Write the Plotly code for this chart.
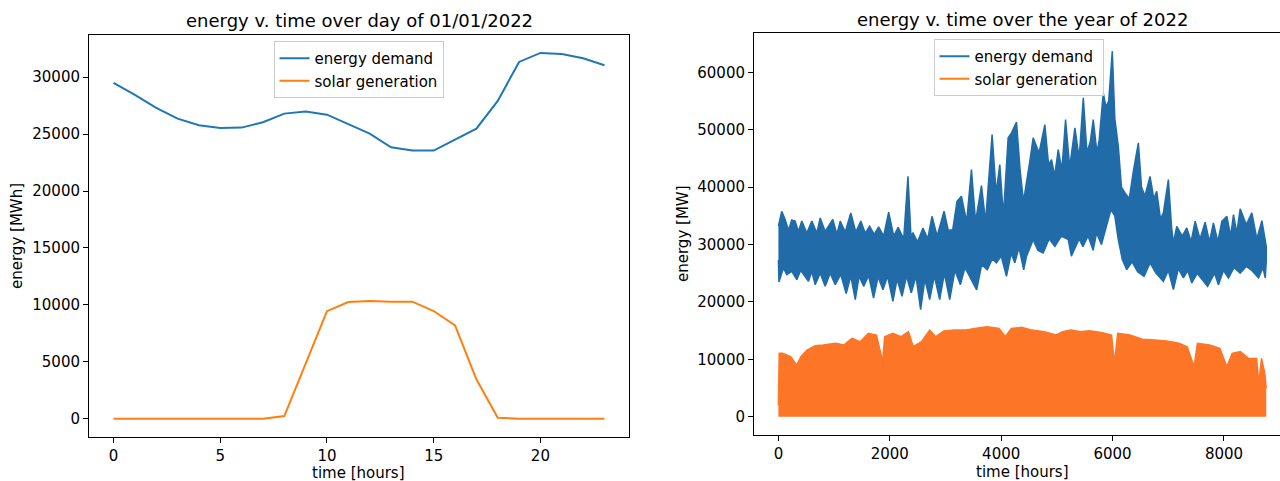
import plotly.graph_objects as go

# ---------------- data: day of 01/01/2022 (hourly) ----------------
day_hours = list(range(24))
day_demand = [29500, 28450, 27300, 26360, 25780, 25540, 25570, 26040, 26800, 26980,
              26710, 25840, 25040, 23840, 23550, 23550, 24550, 25480, 27910, 31340,
              32130, 32040, 31660, 31050]
day_solar = [0, 0, 0, 0, 0, 0, 0, 0, 230, 4900,
             9450, 10250, 10340, 10280, 10280, 9460, 8200, 3460, 90, 0,
             0, 0, 0, 0]

# ---------------- data: year 2022, envelope ----------------
# demand upper envelope (hour, MW)
dem_up_h = [0, 60, 120, 180, 240, 300, 360, 420, 510, 600, 690, 750, 840, 977, 1050, 1110,
            1200, 1300, 1390, 1480, 1560, 1637, 1720, 1800, 1890, 1980, 2070, 2150, 2250,
            2326, 2380, 2416, 2500, 2596, 2680, 2758, 2850, 2974, 3050, 3130, 3207, 3286,
            3380, 3466, 3540, 3646, 3720, 3837, 3910, 3975, 4040, 4125, 4185, 4275, 4340,
            4400, 4514, 4574, 4680, 4784, 4850, 4904, 4960, 5024, 5090, 5156, 5230, 5324,
            5400, 5474, 5540, 5600, 5653, 5720, 5760, 5833, 5880, 5930, 5995, 6040, 6103,
            6160, 6223, 6300, 6373, 6463, 6520, 6580, 6673, 6740, 6793, 6860, 6912, 7002,
            7060, 7092, 7152, 7250, 7333, 7410, 7482, 7570, 7662, 7740, 7811, 7890, 7962,
            8052, 8120, 8171, 8230, 8291, 8400, 8501, 8590, 8681, 8759]
dem_up_v = [33200, 35800, 34400, 32500, 34300, 34100, 32300, 34100, 32000, 34100, 32000,
            34650, 32300, 34400, 31800, 34100, 32200, 35500, 32200, 34100, 32000, 33200,
            31800, 33100, 31500, 35650, 31500, 33000, 31000, 41900, 31500, 32040, 30500,
            32900, 31000, 34940, 31500, 35810, 32500, 32600, 37560, 38430, 34000, 43080,
            34000, 40290, 34000, 49190, 39000, 43950, 35000, 48610, 49480, 51340, 43000,
            37500, 44530, 48610, 46000, 50930, 44000, 44830, 42000, 46570, 43000, 51800,
            43500, 50350, 45000, 55590, 46000, 48000, 51800, 46000, 48250, 56460, 54000,
            55000, 63720, 52000, 47150, 40000, 39020, 38000, 42790, 47740, 40000, 38500,
            41900, 38000, 39300, 34500, 35530, 41340, 33000, 30300, 33190, 31500, 32900,
            30500, 34070, 31000, 33900, 30500, 33770, 30500, 34070, 34940, 31500, 35230,
            32000, 36230, 33500, 35530, 31000, 34190, 29700]
# demand lower envelope (hour, MW)
dem_lo_h = [0, 10, 90, 150, 240, 330, 400, 450, 540, 600, 660, 750, 840, 930, 1020, 1120,
            1217, 1300, 1380, 1450, 1530, 1620, 1708, 1790, 1877, 1960, 2056, 2130, 2220,
            2300, 2387, 2470, 2554, 2630, 2716, 2800, 2896, 2980, 3076, 3170, 3268, 3350,
            3460, 3560, 3650, 3750, 3840, 3915, 4000, 4095, 4180, 4245, 4320, 4404, 4455,
            4574, 4660, 4754, 4860, 4964, 5080, 5204, 5260, 5400, 5468, 5560, 5651, 5714,
            5800, 5880, 5971, 6040, 6100, 6175, 6254, 6350, 6450, 6565, 6673, 6780, 6912,
            7000, 7092, 7180, 7272, 7350, 7422, 7520, 7600, 7706, 7830, 7901, 7990, 8081,
            8180, 8290, 8400, 8500, 8621, 8700, 8741, 8759]
dem_lo_v = [27300, 23500, 25900, 24770, 25350, 23900, 25500, 24770, 23600, 25300, 23020,
            25000, 22730, 25000, 23020, 24800, 21450, 24500, 20400, 24500, 22730, 24600,
            20700, 24400, 22150, 24500, 20100, 24000, 21000, 24500, 21580, 24500, 18660,
            24000, 20410, 24500, 20410, 25000, 20410, 25500, 23020, 26000, 24000, 22100,
            26500, 25600, 27500, 26810, 28000, 24470, 28500, 26810, 29500, 25580, 27960,
            30870, 29000, 28550, 31000, 29700, 31500, 30870, 28000, 31000, 29650, 31500,
            29000, 32040, 30000, 33000, 36110, 35000, 31000, 27380, 25640, 27000, 25290,
            24470, 26810, 25000, 23600, 25500, 22150, 25800, 24190, 25500, 23320, 25000,
            24000, 22700, 25000, 23020, 25500, 24190, 26000, 25000, 26200, 25500, 24190,
            26000, 24190, 27000]
# solar upper envelope (hour, MW); the lower bound of the solar band is 0
sol_h = [0, 15, 73, 220, 330, 404, 514, 660, 807, 1028, 1174, 1321, 1468, 1615, 1761,
         1872, 1908, 2055, 2202, 2334, 2422, 2569, 2716, 2826, 2972, 3156, 3376, 3523,
         3743, 3963, 4073, 4183, 4367, 4550, 4771, 4991, 5101, 5248, 5431, 5578, 5798,
         5982, 6033, 6092, 6312, 6532, 6752, 6972, 7193, 7340, 7464, 7523, 7743, 7927,
         8051, 8147, 8294, 8440, 8587, 8624, 8675, 8733, 8759]
sol_v = [2000, 11050, 11050, 10470, 9000, 10470, 11630, 12380, 12500, 12800, 12500, 13660,
         13080, 14530, 14240, 9600, 13950, 14530, 13950, 14830, 12200, 13080, 15100, 13950,
         14940, 15100, 15100, 15400, 15700, 15400, 13950, 15400, 15580, 15100, 14830,
         14240, 14830, 15100, 14830, 15000, 14700, 14240, 9300, 14530, 14240, 13490,
         13370, 13200, 12800, 12200, 8720, 12800, 12500, 11900, 8720, 11050, 11340, 10170,
         10170, 5800, 10170, 7560, 4940]

BLUE = "#1f77b4"
BAND_BLUE = "#216ca8"
ORANGE = "#ff7f0e"
BAND_ORANGE = "#fd7628"
W, H = 1280, 481
FONT = "DejaVu Sans"
TICK = 15
TITLE = 18

fig = go.Figure()

# left panel
fig.add_trace(go.Scatter(x=day_hours, y=day_demand, mode="lines", name="energy demand",
                         line=dict(color=BLUE, width=2), xaxis="x", yaxis="y", legend="legend"))
fig.add_trace(go.Scatter(x=day_hours, y=day_solar, mode="lines", name="solar generation",
                         line=dict(color=ORANGE, width=2), xaxis="x", yaxis="y", legend="legend"))

# right panel: demand band as polygon from upper and lower envelopes
poly_x = dem_up_h + dem_lo_h[::-1]
poly_y = dem_up_v + dem_lo_v[::-1]
fig.add_trace(go.Scatter(x=poly_x, y=poly_y, mode="lines", fill="toself", fillcolor=BAND_BLUE,
                         line=dict(color=BAND_BLUE, width=1.5), showlegend=False,
                         xaxis="x2", yaxis="y2", hoverinfo="skip"))
fig.add_trace(go.Scatter(x=sol_h, y=sol_v, mode="lines", fill="tozeroy", fillcolor=BAND_ORANGE,
                         line=dict(color=BAND_ORANGE, width=1.5), showlegend=False,
                         xaxis="x2", yaxis="y2", hoverinfo="skip"))
# legend entries for right panel
fig.add_trace(go.Scatter(x=[None], y=[None], mode="lines", name="energy demand",
                         line=dict(color=BLUE, width=2), xaxis="x2", yaxis="y2", legend="legend2"))
fig.add_trace(go.Scatter(x=[None], y=[None], mode="lines", name="solar generation",
                         line=dict(color=ORANGE, width=2), xaxis="x2", yaxis="y2", legend="legend2"))

axis_common = dict(showline=True, linecolor="black", linewidth=1, ticks="outside",
                   ticklen=5, tickwidth=1, tickcolor="black", showgrid=False, zeroline=False,
                   tickformat="d", tickfont=dict(family=FONT, size=TICK, color="black"))

fig.update_layout(
    width=W, height=H, margin=dict(l=0, r=0, t=0, b=0),
    paper_bgcolor="white", plot_bgcolor="white",
    font=dict(family=FONT, size=TICK, color="black"),
    xaxis=dict(domain=[89 / W, 629 / W], range=[-1.15, 24.15], tickvals=[0, 5, 10, 15, 20],
               mirror=True, anchor="y", **axis_common),
    yaxis=dict(domain=[1 - 437 / H, 1 - 35 / H], range=[-1605, 33705],
               tickvals=[0, 5000, 10000, 15000, 20000, 25000, 30000],
               mirror=True, anchor="x", **axis_common),
    xaxis2=dict(domain=[754 / W, 1.0], range=[-438, 9006], tickvals=[0, 2000, 4000, 6000, 8000],
                mirror=True, anchor="y2", **axis_common),
    yaxis2=dict(domain=[1 - 435 / H, 1 - 33 / H], range=[-3185, 66885],
                tickvals=[0, 10000, 20000, 30000, 40000, 50000, 60000],
                mirror=False, anchor="x2", **axis_common),
    legend=dict(x=358.5 / W, y=1 - 41 / H, xanchor="center", yanchor="top",
                bgcolor="rgba(255,255,255,0.8)", bordercolor="#cccccc", borderwidth=1,
                font=dict(family=FONT, size=TICK)),
    legend2=dict(x=1018.5 / W, y=1 - 39 / H, xanchor="center", yanchor="top",
                 bgcolor="rgba(255,255,255,0.8)", bordercolor="#cccccc", borderwidth=1,
                 font=dict(family=FONT, size=TICK)),
    showlegend=True,
)

annotations = [
    dict(text="energy v. time over day of 01/01/2022", x=359 / W, y=1 - 20 / H, xref="paper",
         yref="paper", xanchor="center", yanchor="middle", showarrow=False,
         font=dict(family=FONT, size=TITLE)),
    dict(text="energy v. time over the year of 2022", x=1022 / W, y=1 - 19 / H, xref="paper",
         yref="paper", xanchor="center", yanchor="middle", showarrow=False,
         font=dict(family=FONT, size=TITLE)),
    dict(text="time [hours]", x=358.5 / W, y=1 - 473 / H, xref="paper", yref="paper",
         xanchor="center", yanchor="middle", showarrow=False, font=dict(family=FONT, size=TICK)),
    dict(text="time [hours]", x=1022 / W, y=1 - 472 / H, xref="paper", yref="paper",
         xanchor="center", yanchor="middle", showarrow=False, font=dict(family=FONT, size=TICK)),
    dict(text="energy [MWh]", x=17 / W, y=1 - 236 / H, xref="paper", yref="paper",
         xanchor="center", yanchor="middle", textangle=-90, showarrow=False,
         font=dict(family=FONT, size=TICK)),
    dict(text="energy [MW]", x=683 / W, y=1 - 234 / H, xref="paper", yref="paper",
         xanchor="center", yanchor="middle", textangle=-90, showarrow=False,
         font=dict(family=FONT, size=TICK)),
]
fig.update_layout(annotations=annotations)

fig.write_html("out.html")
